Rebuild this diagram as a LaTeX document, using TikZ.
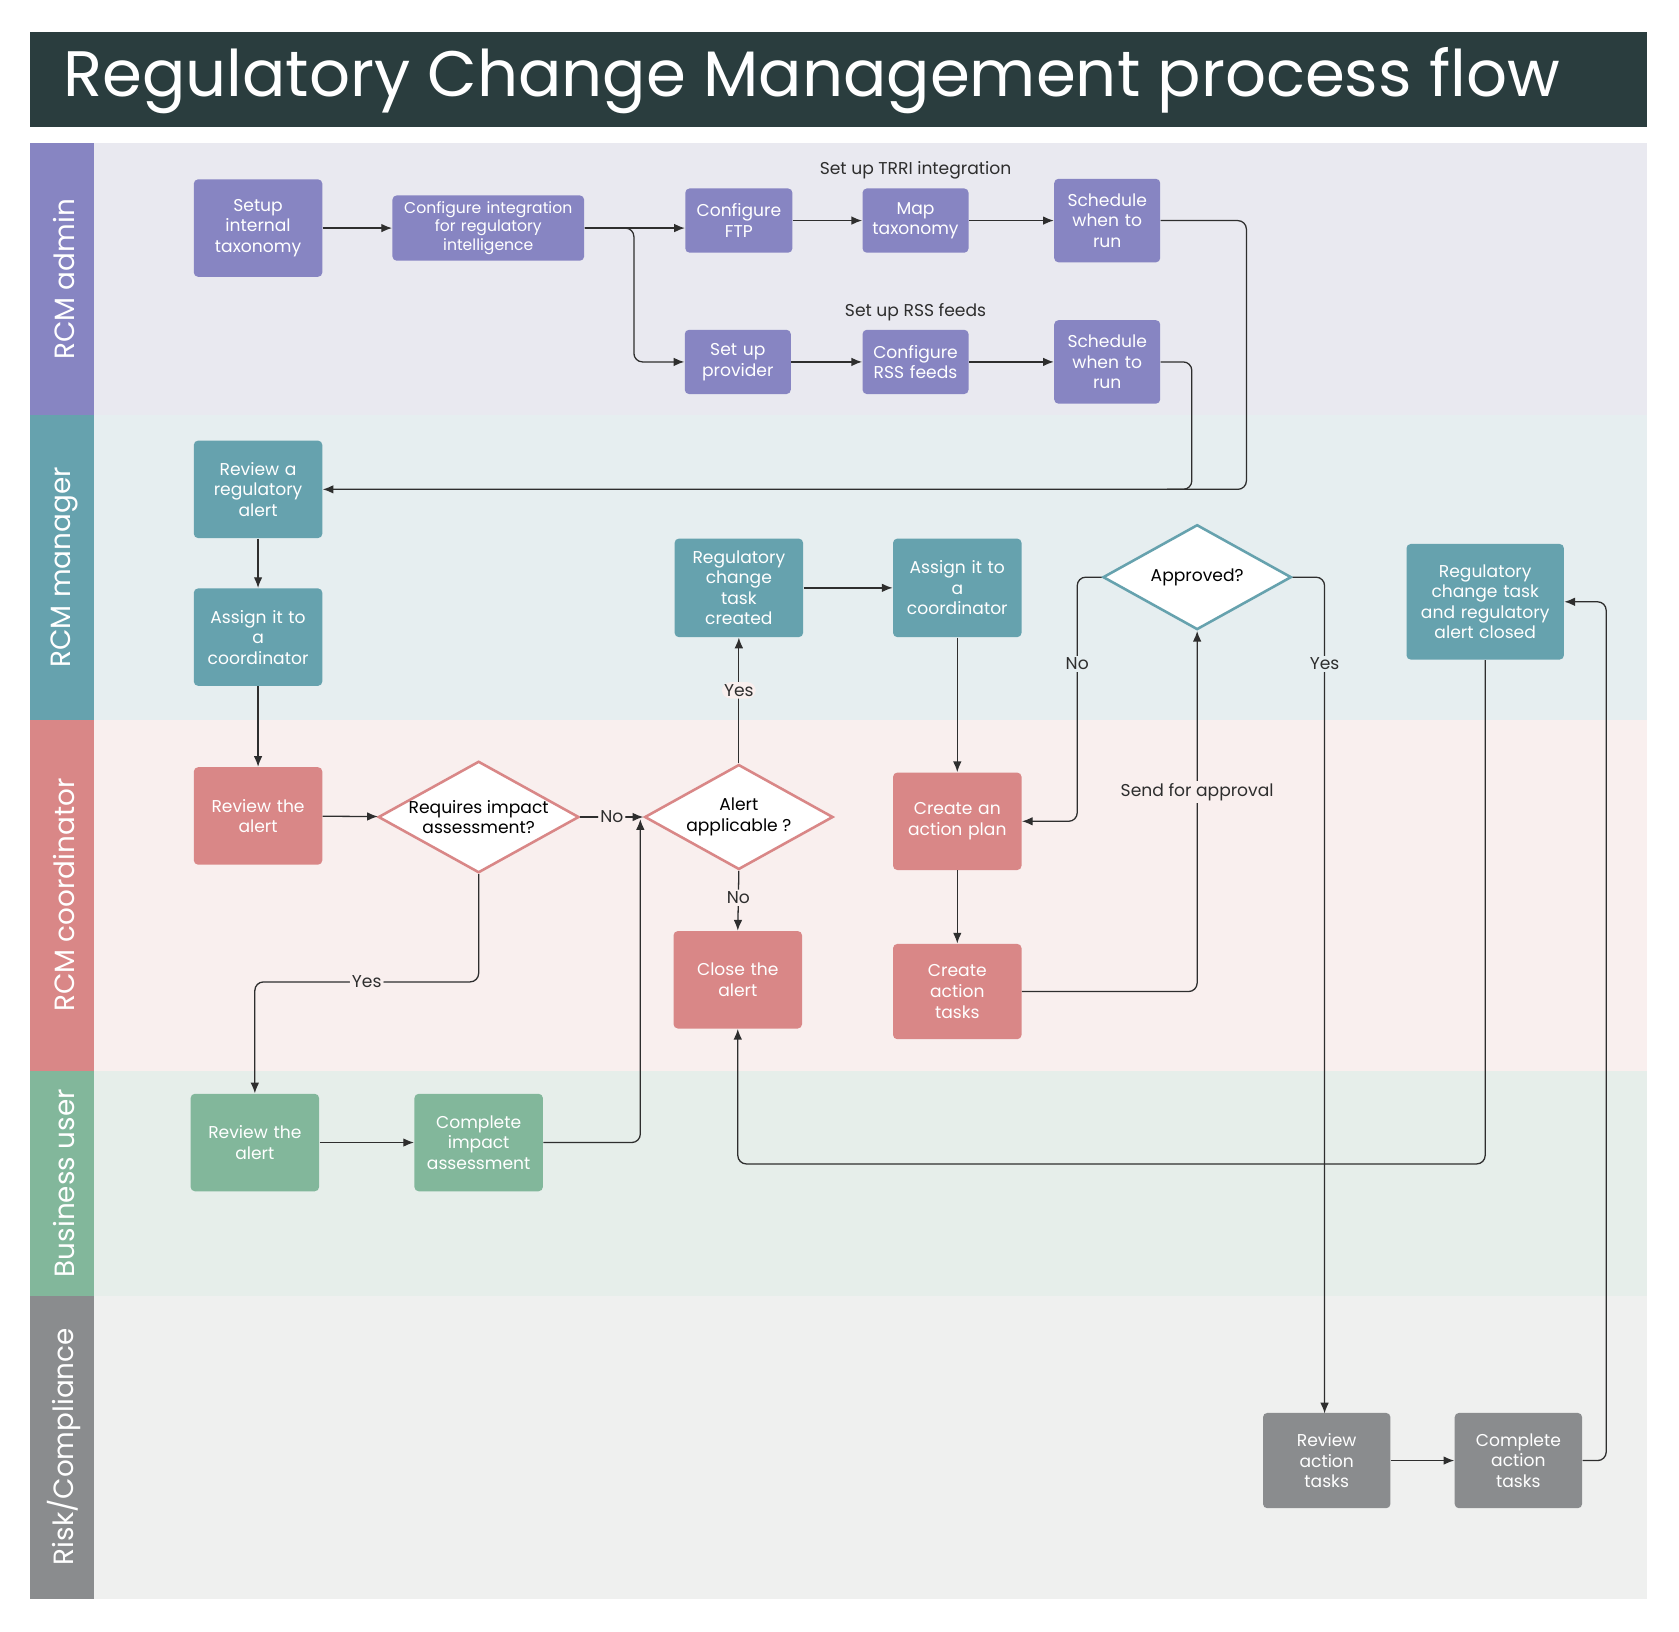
\documentclass[tikz,border=0pt]{standalone}
\usepackage{fontspec}
\setmainfont{Poppins}
\usetikzlibrary{shapes.geometric,arrows.meta}
\definecolor{titlebg}{HTML}{2A3D3E}
\definecolor{pur}{HTML}{8785C2}
\definecolor{tea}{HTML}{66A2AE}
\definecolor{cor}{HTML}{D98787}
\definecolor{gre}{HTML}{82B79B}
\definecolor{gry}{HTML}{8A8C8E}
\definecolor{bgA}{HTML}{E9E9F0}
\definecolor{bgM}{HTML}{E6EEF0}
\definecolor{bgC}{HTML}{F9EFEE}
\definecolor{bgB}{HTML}{E6EEEA}
\definecolor{bgR}{HTML}{EFF0EF}
\definecolor{ln}{HTML}{2E2E2E}
\begin{document}
\begin{tikzpicture}[x=0.5pt,y=-0.5pt,
  box/.style={rectangle,rounded corners=2pt,draw=none,text=white,align=center,font=\fontsize{8}{9.6}\selectfont,inner sep=1pt},
  bx/.style n args={4}{box,fill=#1,minimum width=#2*0.5pt,minimum height=#3*0.5pt,text width=#4*0.5pt},
  dia/.style={diamond,aspect=1.8,draw=#1,line width=1.2pt,fill=white,align=center,font=\fontsize{8}{9.6}\selectfont,inner sep=0pt},
  arr/.style={draw=ln,line width=0.6pt,-{Latex[length=5pt,width=4pt]},rounded corners=4pt},
  lbl/.style={font=\fontsize{8}{9.6}\selectfont,text=ln,inner sep=1pt},
  lane/.style={text=white,font=\fontsize{13}{14}\selectfont,rotate=90}]
\useasboundingbox (0,0) rectangle (1568,1524);
\fill[white] (0,0) rectangle (1568,1524);
\fill[titlebg] (28,30) rectangle (1538,119);
\node[anchor=west,text=white,font=\fontsize{30}{32}\selectfont] (title) at (52,75) {Regulatory Change Management process flow};
% lanes
\fill[bgA] (88,134) rectangle (1538,388); \fill[pur] (28,134) rectangle (88,388);
\fill[bgM] (88,388) rectangle (1538,672); \fill[tea] (28,388) rectangle (88,672);
\fill[bgC] (88,672) rectangle (1538,1000); \fill[cor] (28,672) rectangle (88,1000);
\fill[bgB] (88,1000) rectangle (1538,1210); \fill[gre] (28,1000) rectangle (88,1210);
\fill[bgR] (88,1210) rectangle (1538,1493); \fill[gry] (28,1210) rectangle (88,1493);
\node[lane] (l1) at (60,261) {RCM admin};
\node[lane] (l2) at (60,530) {RCM manager};
\node[lane] (l3) at (60,836) {RCM coordinator};
\node[lane] (l4) at (60,1105) {Business user};
\node[lane] (l5) at (60,1351) {Risk/Compliance};
% admin
\node[bx={pur}{120}{91}{110}] (setup) at (241,213) {Setup\\internal\\taxonomy};
\node[bx={pur}{179}{61}{175},font=\fontsize{7.3}{8.8}\selectfont] (cfg) at (456,213) {Configure integration\\for regulatory\\intelligence};
\node[bx={pur}{100}{60}{95}] (ftp) at (690,206) {Configure\\FTP};
\node[bx={pur}{99}{60}{95}] (map) at (855,206) {Map\\taxonomy};
\node[bx={pur}{99}{78}{95}] (s1) at (1034,206) {Schedule\\when to\\run};
\node[bx={pur}{98}{60}{95}] (prov) at (689,338) {Set up\\provider};
\node[bx={pur}{99}{60}{95}] (rss) at (855,338) {Configure\\RSS feeds};
\node[bx={pur}{99}{78}{95}] (s2) at (1034,338) {Schedule\\when to\\run};
\node[lbl] (t1) at (855,159) {Set up TRRI integration};
\node[lbl] (t2) at (855,292) {Set up RSS feeds};
% manager
\node[bx={tea}{120}{91}{110}] (rra) at (241,457) {Review a\\regulatory\\alert};
\node[bx={tea}{120}{91}{110}] (as1) at (241,595) {Assign it to\\a\\coordinator};
\node[bx={tea}{120}{92}{110}] (rct) at (690,549) {Regulatory\\change\\task\\created};
\node[bx={tea}{120}{92}{110}] (as2) at (894,549) {Assign it to\\a\\coordinator};
\node[dia=tea,minimum width=88pt,minimum height=49pt] (appr) at (1118,539) {Approved?};
\node[bx={tea}{147}{108}{140}] (clo) at (1387,562) {Regulatory\\change task\\and regulatory\\alert closed};
% coordinator
\node[bx={cor}{120}{91}{110}] (ra) at (241,762) {Review the\\alert};
\node[dia=cor,minimum width=89pt,minimum height=49pt] (req) at (447,763) {Requires impact\\assessment?};
\node[dia=cor,minimum width=88pt,minimum height=49pt] (aa) at (690,763) {Alert\\applicable ?};
\node[bx={cor}{120}{91}{110}] (ca) at (689,915) {Close the\\alert};
\node[bx={cor}{120}{91}{110}] (cp) at (894,767) {Create an\\action plan};
\node[bx={cor}{120}{89}{110}] (ct) at (894,926) {Create\\action\\tasks};
% business
\node[bx={gre}{120}{91}{110}] (ra2) at (238,1067) {Review the\\alert};
\node[bx={gre}{120}{91}{110}] (cia) at (447,1067) {Complete\\impact\\assessment};
% risk
\node[bx={gry}{119}{89}{110}] (rat) at (1239,1364) {Review\\action\\tasks};
\node[bx={gry}{119}{89}{110}] (cat) at (1418,1364) {Complete\\action\\tasks};
% connectors
\draw[arr] (setup) -- (cfg);
\draw[arr] (cfg.east) -- (ftp.west |- cfg.east);
\draw[arr] (cfg.east) -- (592,213) |- (prov.west);
\draw[arr] (ftp) -- (map);
\draw[arr] (map) -- (s1);
\draw[arr] (prov) -- (rss);
\draw[arr] (rss) -- (s2);
\draw[arr] (s1.east) -- (1164,206) |- (rra.east);
\draw[draw=ln,line width=0.6pt,rounded corners=4pt] (s2.east) -- (1113,338) -- (1113,457) -- (1090,457);
\draw[arr] (rra) -- (as1);
\draw[arr] (as1) -- (ra);
\draw[arr] (ra) -- (req);
\draw[arr] (req.east) -- node[lbl,fill=bgC,pos=0.5]{No} (aa.west);
\draw[arr] (req.south) |- node[lbl,fill=bgC,pos=0.75]{Yes} (238,917) -- (ra2.north);
\draw[arr] (ra2) -- (cia);
\draw[arr] (cia.east) -- (598,1067) -- (598,765);
\draw[arr] (aa.north) -- node[lbl,fill=bgC,pos=0.58]{Yes} (rct.south);
\draw[arr] (aa.south) -- node[lbl,fill=bgC,pos=0.45]{No} (ca.north);
\draw[arr] (rct) -- (as2);
\draw[arr] (as2) -- (cp);
\draw[arr] (cp) -- (ct);
\draw[arr] (ct.east) -| (appr.south);
\node[lbl,fill=bgC] (sfa) at (1118,740) {Send for approval};
\draw[arr] (appr.west) -- (1006,539) |- (cp.east);
\node[lbl,fill=bgM] (no2) at (1006,620) {No};
\draw[arr] (appr.east) -- (1237,539) -- (1237,1320);
\node[lbl,fill=bgM] (yes2) at (1237,620) {Yes};
\draw[arr] (rat) -- (cat);
\draw[arr] (cat.east) -- (1500,1364) |- (clo.east);
\draw[arr] (clo.south) |- (689,1087) -- (ca.south);
\end{tikzpicture}
\end{document}
